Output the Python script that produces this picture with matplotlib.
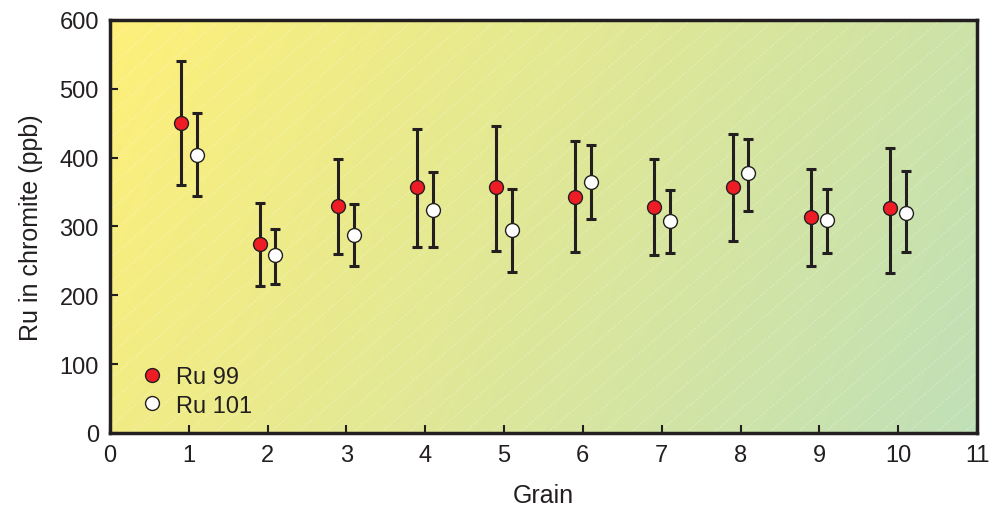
import numpy as np
import matplotlib
matplotlib.use('Agg')
import matplotlib.pyplot as plt
from matplotlib.lines import Line2D

plt.rcParams['font.family'] = ['Liberation Sans', 'DejaVu Sans']

# dane
grain = [1, 2, 3, 4, 5, 6, 7, 8, 9, 10]
ru99 = [451, 274, 330, 357, 358, 343, 329, 357, 314, 327]
ru99_hi = [540, 334, 398, 442, 446, 424, 398, 434, 384, 414]
ru99_lo = [360, 213, 260, 270, 265, 263, 258, 279, 243, 233]
ru101 = [404, 259, 288, 324, 295, 365, 308, 377, 309, 320]
ru101_hi = [465, 297, 332, 379, 355, 418, 353, 427, 355, 380]
ru101_lo = [344, 216, 243, 270, 234, 311, 261, 323, 262, 263]

x_ticks = list(range(0, 12))
y_ticks = [0, 100, 200, 300, 400, 500, 600]

INK = '#231f20'


def gradient_background(ax):
    # kolory w narożnikach: lewy górny, prawy górny, lewy dolny, prawy dolny
    tl = np.array([254, 240, 122]) / 255
    tr = np.array([204, 226, 168]) / 255
    bl = np.array([242, 236, 133]) / 255
    br = np.array([192, 224, 184]) / 255
    n = 200
    u = np.linspace(0, 1, n)[None, :, None]
    v = np.linspace(0, 1, n)[:, None, None]
    top = tl * (1 - u) + tr * u
    bot = bl * (1 - u) + br * u
    img = top * (1 - v) + bot * v  # wiersz 0 = góra
    ax.imshow(img, extent=[0, 1, 0, 1], origin='upper', transform=ax.transAxes,
              aspect='auto', zorder=0, interpolation='bilinear')
    # delikatne ukośne linie
    for s in np.arange(-1.0, 1.2, 0.032):
        ax.plot([s, s + 0.55], [0, 1], transform=ax.transAxes, color='white',
                lw=0.6, alpha=0.35, ls=(0, (3, 2)), zorder=0.5)


fig = plt.figure(figsize=(9.99, 5.06), dpi=100)
ax = fig.add_axes([0.110, 0.1423, 0.868, 0.8162])
gradient_background(ax)

g = np.array(grain)
for xs, ys, hi, lo, fc in [(g - 0.1, ru99, ru99_hi, ru99_lo, '#ee1c25'),
                           (g + 0.1, ru101, ru101_hi, ru101_lo, 'white')]:
    ys = np.array(ys)
    yerr = [ys - np.array(lo), np.array(hi) - ys]
    ax.errorbar(xs, ys, yerr=yerr, fmt='none', ecolor=INK, elinewidth=2.2,
                capsize=3.8, capthick=2.2, zorder=2)
    ax.plot(xs, ys, 'o', ms=10, mfc=fc, mec=INK, mew=1.0, zorder=3)

ax.set_xlim(0, 11)
ax.set_ylim(0, 600)
ax.set_xticks(x_ticks)
ax.set_yticks(y_ticks)
ax.tick_params(direction='in', length=6, width=1.5, labelsize=17, pad=8,
               color=INK, labelcolor=INK)
for sp in ax.spines.values():
    sp.set_linewidth(2.5)
    sp.set_color(INK)
ax.set_xlabel('Grain', fontsize=18, color=INK, labelpad=12)
ax.set_ylabel('Ru in chromite (ppb)', fontsize=18, color=INK, labelpad=12)

handles = [
    Line2D([], [], ls='none', marker='o', ms=10, mfc='#ee1c25', mec=INK, mew=1.0),
    Line2D([], [], ls='none', marker='o', ms=10, mfc='white', mec=INK, mew=1.0),
]
ax.legend(handles, ['Ru 99', 'Ru 101'], loc='lower left', bbox_to_anchor=(0.004, -0.012),
          frameon=False, fontsize=17, handletextpad=0.25, labelspacing=0.28,
          handlelength=1.5, labelcolor=INK)

fig.savefig('out.png', dpi=100)
